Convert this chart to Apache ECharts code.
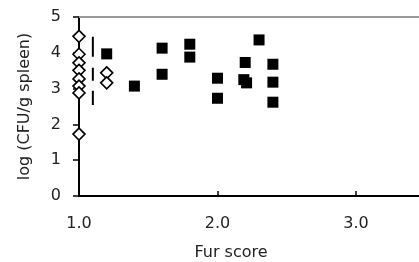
<!DOCTYPE html>
<html>
<head>
<meta charset="utf-8">
<script src="https://cdn.jsdelivr.net/npm/echarts@6/dist/echarts.min.js"></script>
<style>
  html, body { margin: 0; padding: 0; background: #fff; }
  #chart { width: 419px; height: 262px; }
</style>
</head>
<body>
<div id="chart"></div>
<script>
// open diamonds, fur score 1.0
var diamondsA = [[1.0, 4.46], [1.0, 3.96], [1.0, 3.72], [1.0, 3.51], [1.0, 3.27], [1.0, 3.07], [1.0, 2.88], [1.0, 1.73]];
// open diamonds, fur score 1.2
var diamondsB = [[1.2, 3.44], [1.2, 3.16]];
// dashed range at 1.1
var rangeLine = [[1.1, 4.45], [1.1, 2.54]];
// filled squares
var squares = [
    [1.2, 3.97], [1.4, 3.07], [1.6, 4.13], [1.6, 3.40],
    [1.8, 4.24], [1.8, 3.88], [2.0, 3.29], [2.0, 2.73],
    [2.2, 3.73], [2.19, 3.25], [2.21, 3.16], [2.3, 4.36],
    [2.4, 3.68], [2.4, 3.18], [2.4, 2.62]
];
var xTicks = [1, 2, 3];
var yTicks = [0, 1, 2, 3, 4, 5];

var font = 'DejaVu Sans';
var myChart = echarts.init(document.getElementById('chart'));

var option = {
    animation: false,
    grid: { left: 79, right: 0, top: 17, bottom: 66 },
    xAxis: [{
        type: 'value',
        min: 1,
        max: 1 + 340 / 138.5,
        interval: 1,
        splitLine: { show: false },
        axisLine: { lineStyle: { color: '#000', width: 2 } },
        axisTick: { inside: true, length: 5, customValues: xTicks, lineStyle: { color: '#000', width: 1.5 } },
        axisLabel: {
            customValues: xTicks,
            margin: 20,
            color: '#222',
            fontFamily: font,
            fontSize: 16,
            formatter: function(v) { return v.toFixed(1); }
        }
    }, {
        type: 'value',
        position: 'top',
        min: 1,
        max: 1 + 340 / 138.5,
        splitLine: { show: false },
        axisLine: { show: true, lineStyle: { color: '#999', width: 2 } },
        axisTick: { show: false },
        axisLabel: { show: false }
    }],
    yAxis: {
        type: 'value',
        min: 0,
        max: 5,
        interval: 1,
        name: 'log (CFU/g spleen)',
        nameLocation: 'middle',
        nameGap: 46,
        nameTextStyle: { color: '#222', fontFamily: font, fontSize: 16 },
        splitLine: { show: false },
        axisLine: { show: true, lineStyle: { color: '#000', width: 2 } },
        axisTick: { show: true, length: 6, customValues: yTicks, lineStyle: { color: '#000', width: 1.5 } },
        axisLabel: { margin: 18, color: '#222', fontFamily: font, fontSize: 16 }
    },
    graphic: [{
        type: 'text',
        x: 231,
        y: 253,
        style: {
            text: 'Fur score',
            fill: '#222',
            font: '16px "DejaVu Sans"',
            align: 'center',
            verticalAlign: 'middle'
        }
    }],
    series: [{
        type: 'line',
        data: rangeLine,
        symbol: 'none',
        lineStyle: { color: '#000', width: 2, type: [20, 11, 13, 10] },
        z: 1
    }, {
        type: 'scatter',
        data: squares,
        symbol: 'rect',
        symbolSize: 11,
        itemStyle: { color: '#000', opacity: 1 },
        z: 2
    }, {
        type: 'scatter',
        data: diamondsA,
        symbol: 'diamond',
        symbolSize: 12,
        itemStyle: { color: '#fff', borderColor: '#000', borderWidth: 1.6, opacity: 1 },
        z: 3
    }, {
        type: 'scatter',
        data: diamondsB,
        symbol: 'diamond',
        symbolSize: 12,
        itemStyle: { color: '#fff', borderColor: '#000', borderWidth: 1.6, opacity: 1 },
        z: 3
    }]
};
myChart.setOption(option);
</script>
</body>
</html>
